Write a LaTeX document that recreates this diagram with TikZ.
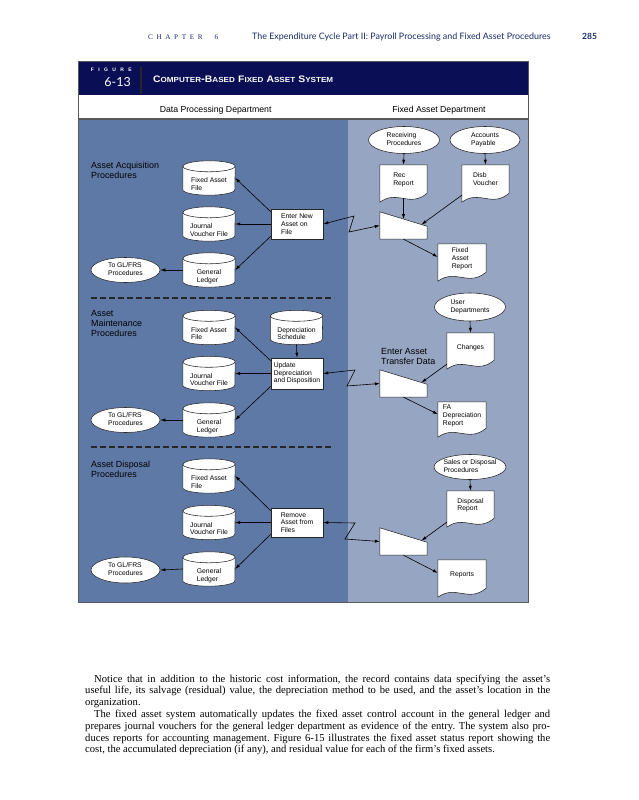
\documentclass[tikz,border=0pt]{standalone}
\usepackage{fontspec}
\setmainfont{Liberation Serif}[Ligatures=TeX]
\setsansfont{Liberation Sans}
\newfontfamily\hdrfont{Lato}
\usetikzlibrary{arrows.meta,calc,shapes.geometric}
\pgfdeclarelayer{panel}
\pgfdeclarelayer{shapes}
\pgfsetlayers{panel,shapes,main}
\frenchspacing
\definecolor{navy}{HTML}{0A0E55}
\definecolor{dpblue}{HTML}{5F79A6}
\definecolor{fablue}{HTML}{95A5C2}
\definecolor{framegray}{HTML}{5A5A5A}
\definecolor{hdrblue}{HTML}{1A2A6A}
\newcommand\ctext[1]{\raisebox{-7pt}[\height][\depth]{\begin{tabular}{@{}l@{}}#1\end{tabular}}}
\newcommand\dtext[1]{\raisebox{3.5pt}[\height][\depth]{\begin{tabular}{@{}l@{}}#1\end{tabular}}}
\newcommand\etext[1]{\makebox[0pt]{\begin{tabular}{@{}l@{}}#1\end{tabular}}}
\newcommand\titlesc[2]{{\fontsize{9}{9}\selectfont #1}{\fontsize{7}{7}\selectfont #2}}
\newcommand\cylout[1]{%
  \path[shp] ($(#1.north west)+(0,5.5)$) -- ($(#1.south west)+(0,-5.5)$)
    arc[start angle=180,end angle=360,x radius=26pt,y radius=5.5pt]
    -- ($(#1.north east)+(0,5.5)$)
    arc[start angle=0,end angle=180,x radius=26pt,y radius=5.5pt] -- cycle;
  \draw[outl] ($(#1.north west)+(0,5.5)$) arc[start angle=180,end angle=360,x radius=26pt,y radius=5.5pt];}
\newcommand\docout[1]{%
  \path[shp] (#1.south west) -- (#1.north west) -- (#1.north east) -- ($(#1.south east)+(0,-9)$)
    .. controls ($(#1.south west)!0.62!(#1.south east)+(0,6)$) and ($(#1.south west)!0.38!(#1.south east)+(0,-13)$) .. (#1.south west) -- cycle;}
\newcommand\trapout[1]{%
  \path[shp] (#1.north west) -- ($(#1.north east)+(0,14.5)$) -- (#1.south east) -- (#1.south west) -- cycle;}
\begin{document}
\begin{tikzpicture}[x=1pt,y=-1pt,
  txt/.style={font=\sffamily\fontsize{6.8}{7.7}\selectfont, align=left},
  cyl/.style={txt, minimum width=52pt, minimum height=34pt, inner sep=0pt},
  procbox/.style={txt, draw=black!85, fill=white, line width=0.55pt, minimum width=52pt, minimum height=30pt, inner sep=1pt},
  docnode/.style={txt, minimum width=47pt, minimum height=37pt, inner sep=0pt},
  trapnode/.style={minimum width=47pt, minimum height=27pt, inner sep=0pt},
  term/.style={txt, ellipse, draw=black!85, fill=white, line width=0.55pt, inner sep=0pt},
  shp/.style={draw=black!85, fill=white, line width=0.55pt},
  outl/.style={draw=black!85, line width=0.55pt},
  arr/.style={-{Latex[length=5pt,width=3.2pt]}, line width=0.6pt},
  flash/.style={{Latex[length=5pt,width=3.2pt]}-{Latex[length=5pt,width=3.2pt]}, line width=0.6pt},
  lbl/.style={font=\sffamily\fontsize{8.9}{10}\selectfont, align=left, inner sep=0pt, anchor=north west},
  dept/.style={font=\sffamily\fontsize{8.7}{10}\selectfont, inner sep=0pt, anchor=base},
  dashline/.style={line width=1.3pt, black!85, dash pattern=on 6pt off 3pt}
]
\useasboundingbox (0,0) rectangle (639,800);
\begin{pgfonlayer}{panel}
  \fill[white] (0,0) rectangle (639,800);
  \fill[navy] (78,61) rectangle (528,95);
  \fill[white] (78,95) rectangle (528,119);
  \fill[dpblue] (78,119) rectangle (348,602);
  \fill[fablue] (348,119) rectangle (528,602);
  \draw[framegray, line width=0.6pt] (78,61) rectangle (528,602);
  \draw[framegray, line width=1.2pt] (78,119) -- (528,119);
  \draw[black!85, line width=1.5pt] (141,67) -- (141,94);
\end{pgfonlayer}

% page header
\node[anchor=base west, inner sep=0, font=\rmfamily\fontsize{7.2}{7.2}\selectfont, text=hdrblue] (chap) at (148,40)
  {C\hspace{3.6pt}H\hspace{3.6pt}A\hspace{3.6pt}P\hspace{3.6pt}T\hspace{3.6pt}E\hspace{3.6pt}R\hspace{12pt}6};
\node[anchor=base west, inner sep=0, font=\hdrfont\fontsize{8.9}{8.9}\selectfont, text=hdrblue] (runhead) at (252,40)
  {The Expenditure Cycle Part II: Payroll Processing and Fixed Asset Procedures};
\node[anchor=base west, inner sep=0, font=\hdrfont\bfseries\fontsize{8.5}{8.5}\selectfont, text=hdrblue] (pageno) at (582,40) {285};

% figure header
\node[anchor=base east, inner sep=0, text=white, font=\sffamily\bfseries\fontsize{5}{5}\selectfont] (figlbl) at (132,71)
  {F\hspace{4.4pt}I\hspace{4.4pt}G\hspace{4.4pt}U\hspace{4.4pt}R\hspace{4.4pt}E};
\node[anchor=base east, inner sep=0, text=white, font=\hdrfont\fontsize{12.5}{12.5}\selectfont] (fignum) at (131,86.7) {6-13};
\node[anchor=base west, inner sep=0, text=white] (title) at (153,82.3)
  {\resizebox{180pt}{6.6pt}{\sffamily\bfseries\titlesc{C}{OMPUTER}-\titlesc{B}{ASED} \titlesc{F}{IXED} \titlesc{A}{SSET} \titlesc{S}{YSTEM}}};
\node[dept] (dpd) at (215.6,112) {Data Processing Department};
\node[dept] (fad) at (439,112) {Fixed Asset Department};

% section labels
\node[lbl] (lacq) at (91,161.5) {Asset Acquisition\\Procedures};
\node[lbl] (lmnt) at (91,310.5) {Asset\\Maintenance\\Procedures};
\node[lbl] (ldis) at (91,460.5) {Asset Disposal\\Procedures};
\node[lbl] (ltrn) at (381,348.5) {Enter Asset\\Transfer Data};

\draw[dashline] (91,298) -- (334,298);
\draw[dashline] (91,447) -- (334,447);

% ---------- Acquisition ----------
\node[cyl] (fa1) at (209,178) {\ctext{Fixed Asset\\File}};
\node[cyl] (jv1) at (209,224) {\ctext{Journal\\Voucher File}};
\node[cyl] (gl1) at (209,270) {\ctext{General\\Ledger}};
\node[term, minimum width=69pt, minimum height=25pt] (togl1) at (125.5,270) {\etext{To GL/FRS\\Procedures}};
\node[procbox] (enter) at (297,224) {Enter New\\Asset on\\File};
\node[term, minimum width=71pt, minimum height=27pt] (recv) at (404,140) {\etext{Receiving\\Procedures}};
\node[term, minimum width=70pt, minimum height=27pt] (ap) at (485,140) {\etext{Accounts\\Payable}};
\node[docnode] (rr) at (403.5,183.5) {\dtext{Rec\\Report}};
\node[docnode] (dv) at (485.5,183.5) {\dtext{Disb\\Voucher}};
\node[trapnode] (t1) at (403.5,225.5) {};
\node[docnode, minimum width=48pt] (far) at (462,262.5) {\dtext{Fixed\\Asset\\Report}};

% ---------- Maintenance ----------
\node[cyl] (fa2) at (209,327.5) {\ctext{Fixed Asset\\File}};
\node[cyl] (ds) at (296.5,327.5) {\ctext{Depreciation\\Schedule}};
\node[cyl] (jv2) at (209,373.5) {\ctext{Journal\\Voucher File}};
\node[cyl] (gl2) at (209,420) {\ctext{General\\Ledger}};
\node[term, minimum width=69pt, minimum height=25pt] (togl2) at (125.5,420) {\etext{To GL/FRS\\Procedures}};
\node[procbox, minimum height=31pt] (upd) at (297,373.5) {Update\\Depreciation\\and Disposition};
\node[term, minimum width=71pt, minimum height=28pt] (user) at (470,307) {\etext{User\\Departments}};
\node[docnode, minimum height=36pt] (chg) at (470.5,351) {\dtext{Changes}};
\node[trapnode] (t2) at (403.5,383.5) {};
\node[docnode, minimum width=48pt, minimum height=35pt] (fadr) at (462,419.5) {\dtext{FA\\Depreciation\\Report}};

% ---------- Disposal ----------
\node[cyl] (fa3) at (209,476) {\ctext{Fixed Asset\\File}};
\node[cyl] (jv3) at (209,522.5) {\ctext{Journal\\Voucher File}};
\node[cyl] (gl3) at (209,569) {\ctext{General\\Ledger}};
\node[term, minimum width=69pt, minimum height=26pt] (togl3) at (125.5,570) {\etext{To GL/FRS\\Procedures}};
\node[procbox, minimum height=29pt] (rem) at (297,522.5) {Remove\\Asset from\\Files};
\node[term, minimum width=72pt, minimum height=25pt] (sale) at (470,467) {\etext{Sales or Disposal\\Procedures}};
\node[docnode, minimum height=36pt] (dr) at (470.5,509) {\dtext{Disposal\\Report}};
\node[trapnode] (t3) at (403.5,541.5) {};
\node[docnode, minimum width=48pt] (rep) at (462,578.5) {\dtext{Reports}};

% helper coordinates
\coordinate (t1tr) at ($(t1.north east)+(0,14.5)$);
\coordinate (t2tr) at ($(t2.north east)+(0,14.5)$);
\coordinate (t3tr) at ($(t3.north east)+(0,14.5)$);
\coordinate (z1a) at (354,216);
\coordinate (z1b) at (349,232);
\coordinate (z2a) at (355,370);
\coordinate (z2b) at (347,386);
\coordinate (z3a) at (355,523);
\coordinate (z3b) at (345,539);

\begin{pgfonlayer}{shapes}
  \cylout{fa1}\cylout{jv1}\cylout{gl1}
  \cylout{fa2}\cylout{jv2}\cylout{gl2}\cylout{ds}
  \cylout{fa3}\cylout{jv3}\cylout{gl3}
  \docout{rr}\docout{dv}\docout{far}
  \docout{chg}\docout{fadr}
  \docout{dr}\docout{rep}
  \trapout{t1}\trapout{t2}\trapout{t3}
\end{pgfonlayer}

% connectors: acquisition
\draw[arr] ($(enter.north west)+(0,3)$) -- (fa1.east);
\draw[arr] (enter.west) -- (jv1.east);
\draw[arr] ($(enter.south west)+(0,-3)$) -- (gl1.east);
\draw[arr] (gl1.west) -- (togl1.east);
\draw[flash] (enter.east) -- (z1a) -- (z1b) -- (t1.west);
\draw[arr] (recv.south) -- (rr.north);
\draw[arr] (ap.south) -- (dv.north);
\draw[arr] ($(rr.south)+(0,-4)$) -- ($(t1.north west)!0.5!(t1tr)$);
\draw[arr] ($(dv.south west)+(0,-7)$) -- ($(t1.north west)!0.88!(t1tr)$);
\draw[arr] (t1.south) -- ($(far.north west)!0.35!(far.south west)$);

% connectors: maintenance
\draw[arr] ($(upd.north west)+(0,3)$) -- (fa2.east);
\draw[arr] (upd.west) -- (jv2.east);
\draw[arr] ($(upd.south west)+(0,-3)$) -- (gl2.east);
\draw[arr] (gl2.west) -- (togl2.east);
\draw[arr] (ds.south) -- (upd.north);
\draw[flash] (upd.east) -- (z2a) -- (z2b) -- (t2.west);
\draw[arr] (user.south) -- (chg.north);
\draw[arr] ($(chg.south west)+(0,-5)$) -- ($(t2.north west)!0.88!(t2tr)$);
\draw[arr] (t2.south) -- ($(fadr.north west)!0.35!(fadr.south west)$);

% connectors: disposal
\draw[arr] ($(rem.north west)+(0,3)$) -- (fa3.east);
\draw[arr] (rem.west) -- (jv3.east);
\draw[arr] ($(rem.south west)+(0,-3)$) -- (gl3.east);
\draw[arr] (gl3.west) -- (togl3.east);
\draw[flash] (rem.east) -- (z3a) -- (z3b) -- (t3.west);
\draw[arr] (sale.south) -- (dr.north);
\draw[arr] ($(dr.south west)+(0,-5)$) -- ($(t3.north west)!0.88!(t3tr)$);
\draw[arr] (t3.south) -- ($(rep.north west)!0.35!(rep.south west)$);

% body text
\node[anchor=north west, text width=465pt, align=justify, inner sep=0pt, font=\rmfamily\fontsize{10.6}{11.8}\selectfont] (body) at (85,674.5)
{\hspace*{9pt}Notice that in addition to the historic cost information, the record contains data specifying the asset's\linebreak
useful life, its salvage (residual) value, the depreciation method to be used, and the asset's location in the\linebreak
organization.\par
\hspace*{9pt}The fixed asset system automatically updates the fixed asset control account in the general ledger and\linebreak
prepares journal vouchers for the general ledger department as evidence of the entry. The system also pro-\linebreak
duces reports for accounting management. Figure 6-15 illustrates the fixed asset status report showing the\linebreak
cost, the accumulated depreciation (if any), and residual value for each of the firm's fixed assets.};
\end{tikzpicture}
\end{document}
